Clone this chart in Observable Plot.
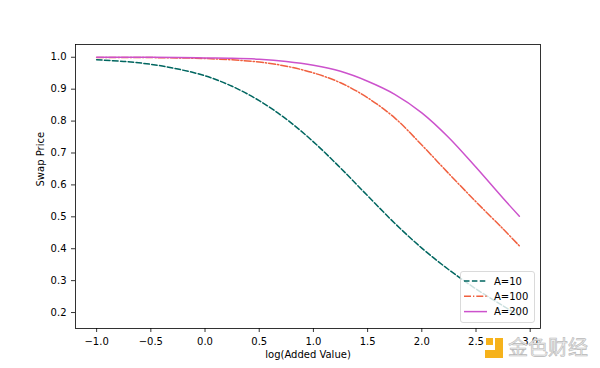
<!DOCTYPE html>
<html>
<head>
<meta charset="utf-8">
<script src="https://cdn.jsdelivr.net/npm/d3@7"></script>
<script src="https://cdn.jsdelivr.net/npm/@observablehq/plot@0.6"></script>
<style>
  html, body { margin: 0; padding: 0; background: white; }
</style>
</head>
<body>
<div id="chart"></div>
<script>
// ---- data ----
const logAdded = [-1.0, -0.75, -0.5, -0.25, 0.0, 0.25, 0.5, 0.75, 1.0, 1.25, 1.5, 1.75, 2.0, 2.25, 2.5, 2.75, 2.9];
const seriesNames = ["A=10", "A=100", "A=200"];
const priceA10  = [0.992, 0.987, 0.978, 0.963, 0.942, 0.909, 0.864, 0.806, 0.735, 0.653, 0.566, 0.480, 0.402, 0.334, 0.274, 0.221, 0.190];
const priceA100 = [0.9995, 0.9993, 0.999, 0.998, 0.996, 0.992, 0.985, 0.972, 0.951, 0.920, 0.873, 0.810, 0.725, 0.635, 0.547, 0.462, 0.409];
const priceA200 = [1.0, 0.9999, 0.9997, 0.9993, 0.998, 0.997, 0.994, 0.987, 0.975, 0.956, 0.925, 0.884, 0.826, 0.748, 0.655, 0.558, 0.502];
const xTicks = [-1.0, -0.5, 0.0, 0.5, 1.0, 1.5, 2.0, 2.5, 3.0];
const yTicks = [0.2, 0.3, 0.4, 0.5, 0.6, 0.7, 0.8, 0.9, 1.0];

const seriesValues = [priceA10, priceA100, priceA200];
const styles = [
  {stroke: "#006660", dash: "5.5,2.4"},
  {stroke: "#f0603f", dash: "7,2,1.3,2"},
  {stroke: "#cc52cc", dash: null}
];

const lineMarks = seriesNames.map((name, i) => {
  const rows = logAdded.map((x, j) => ({x, y: seriesValues[i][j]}));
  const opts = {x: "x", y: "y", stroke: styles[i].stroke, strokeWidth: 1.5, curve: "catmull-rom"};
  if (styles[i].dash) opts.strokeDasharray = styles[i].dash;
  return Plot.line(rows, opts);
});

const fmt = d3.format(".1f");
const chart = Plot.plot({
  width: 600,
  height: 368,
  marginLeft: 75,
  marginRight: 60,
  marginTop: 44,
  marginBottom: 40,
  style: {fontFamily: "DejaVu Sans", fontSize: "10px", color: "#000", background: "white"},
  x: {domain: [-1.195, 3.095]},
  y: {domain: [0.15, 1.04]},
  marks: [
    ...lineMarks,
    Plot.frame({stroke: "#000", strokeWidth: 0.8}),
    Plot.axisX({ticks: xTicks, tickFormat: fmt, tickSize: 4, tickPadding: 5, label: null, stroke: "#000", strokeWidth: 0.8}),
    Plot.axisY({ticks: yTicks, tickFormat: fmt, tickSize: 4, tickPadding: 5, label: null, stroke: "#000", strokeWidth: 0.8}),
    Plot.text(["log(Added Value)"], {frameAnchor: "bottom", dy: 26, lineAnchor: "middle", fontSize: 10, fill: "#000"}),
    Plot.text(["Swap Price"], {frameAnchor: "left", dx: -35, rotate: -90, lineAnchor: "middle", fontSize: 10, fill: "#000"})
  ]
});

document.getElementById("chart").appendChild(chart);

// ---- legend (lower right, matplotlib style) ----
const svg = d3.select(chart);
const lg = svg.append("g").attr("font-family", "DejaVu Sans").attr("font-size", 10).attr("text-anchor", "start");
lg.append("rect")
  .attr("x", 460.5).attr("y", 271.5).attr("width", 74).attr("height", 51)
  .attr("rx", 2.5).attr("fill", "white").attr("fill-opacity", 0.8)
  .attr("stroke", "#d0d0d0").attr("stroke-width", 0.8);
seriesNames.forEach((name, i) => {
  const yy = 281 + i * 15.3;
  const l = lg.append("line").attr("x1", 464).attr("x2", 487).attr("y1", yy).attr("y2", yy)
    .attr("stroke", styles[i].stroke).attr("stroke-width", 1.5);
  if (styles[i].dash) l.attr("stroke-dasharray", styles[i].dash);
  lg.append("text").attr("x", 494).attr("y", yy).attr("dy", "0.35em").attr("fill", "#000").text(name);
});

// ---- watermark ----
const wm = svg.append("g").attr("text-anchor", "start");
wm.append("rect").attr("x", 486).attr("y", 338).attr("width", 7).attr("height", 7).attr("fill", "#f6b21b");
wm.append("path").attr("d", "M495,338 h8 v20 h-18 v-8 h10 z").attr("fill", "#f6b21b");
wm.append("text").attr("x", 508).attr("y", 348).attr("dy", "0.35em")
  .attr("font-family", "Noto Sans CJK SC").attr("font-size", 20)
  .attr("fill", "#ececec").attr("stroke", "#b8b8b8").attr("stroke-width", 0.6)
  .text("金色财经");
</script>
</body>
</html>
